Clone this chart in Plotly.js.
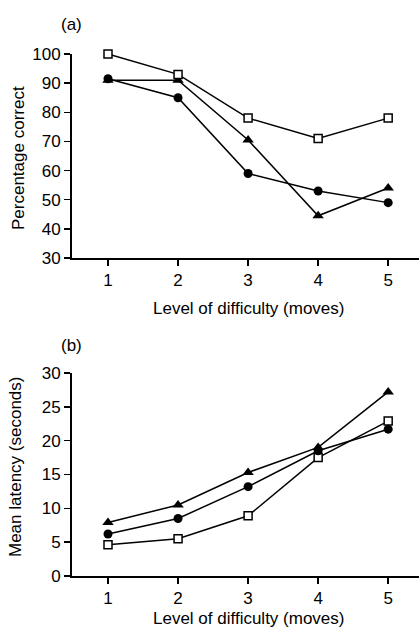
<!DOCTYPE html>
<html><head><meta charset="utf-8">
<script src="https://cdn.plot.ly/plotly-3.0.1.min.js"></script>
<style>html,body{margin:0;padding:0;background:#fff}#chart{width:419px;height:629px}</style>
</head><body><div id="chart"></div>
<script>
const levels = [1, 2, 3, 4, 5];
const tickLabels = ['1', '2', '3', '4', '5'];
// Panel (a): Percentage correct
const correctSquare = [100, 93, 78, 71, 78];
const correctCircle = [91.5, 85, 59, 53, 49];
const correctTriangle = [91, 91, 70.5, 44.5, 54];
// Panel (b): Mean latency (seconds)
const latencySquare = [4.6, 5.5, 8.9, 17.5, 22.9];
const latencyCircle = [6.2, 8.5, 13.2, 18.5, 21.7];
const latencyTriangle = [7.9, 10.5, 15.3, 19.0, 27.2];

const FONT = 'Liberation Sans, Arial, sans-serif';
const FS = 17;
const lineStyle = {color: '#000', width: 1.5};
function tr(y, sym, xa, ya) {
  const m = {square: {symbol: 'square', size: 8, color: '#fff', line: {color: '#000', width: 1.5}},
             circle: {symbol: 'circle', size: 9, color: '#000', line: {width: 0}},
             triangle: {symbol: 'triangle-up', size: 10, color: '#000', line: {width: 0}}}[sym];
  return {x: levels, y: y, xaxis: xa, yaxis: ya, mode: 'lines+markers', line: lineStyle, marker: m, showlegend: false, cliponaxis: false};
}
const data = [
  tr(correctCircle, 'circle', 'x', 'y'),
  tr(correctTriangle, 'triangle', 'x', 'y'),
  tr(correctSquare, 'square', 'x', 'y'),
  tr(latencySquare, 'square', 'x2', 'y2'),
  tr(latencyCircle, 'circle', 'x2', 'y2'),
  tr(latencyTriangle, 'triangle', 'x2', 'y2'),
];
const xBase = {range: [0.486, 5.44], tickvals: levels, ticktext: tickLabels, showgrid: false, zeroline: false,
  showline: true, linecolor: '#000', linewidth: 2, ticks: 'outside', ticklen: 6, tickwidth: 1.5, tickcolor: '#000',
  tickfont: {family: FONT, size: FS, color: '#000'}, fixedrange: true};
const yBase = {showgrid: false, zeroline: false, showline: true, linecolor: '#000', linewidth: 2,
  ticks: 'outside', ticklen: 6, tickwidth: 1.5, tickcolor: '#000', tickfont: {family: FONT, size: FS, color: '#000'}, fixedrange: true};
const H = 522;
const layout = {
  width: 419, height: 629,
  margin: {l: 72, r: 0, t: 54, b: 53, pad: 0},
  paper_bgcolor: '#fff', plot_bgcolor: '#fff',
  font: {family: FONT, color: '#000'},
  xaxis: Object.assign({}, xBase, {anchor: 'y', domain: [0, 1]}),
  yaxis: Object.assign({}, yBase, {domain: [(576 - 258) / H, 1], range: [30, 100], tickvals: [30, 40, 50, 60, 70, 80, 90, 100]}),
  xaxis2: Object.assign({}, xBase, {anchor: 'y2', domain: [0, 1]}),
  yaxis2: Object.assign({}, yBase, {domain: [0, (576 - 373) / H], range: [0, 30], tickvals: [0, 5, 10, 15, 20, 25, 30]}),
  annotations: [
    {text: '(a)', xref: 'paper', yref: 'paper', x: (71 - 72) / 347, y: (576 - 25) / H, showarrow: false, xanchor: 'center', yanchor: 'middle', font: {family: FONT, size: FS}},
    {text: '(b)', xref: 'paper', yref: 'paper', x: (71 - 72) / 347, y: (576 - 345) / H, showarrow: false, xanchor: 'center', yanchor: 'middle', font: {family: FONT, size: FS}},
    {text: 'Level of difficulty (moves)', xref: 'paper', yref: 'paper', x: (248 - 72) / 347, y: (576 - 308) / H, showarrow: false, xanchor: 'center', yanchor: 'middle', font: {family: FONT, size: FS}},
    {text: 'Level of difficulty (moves)', xref: 'paper', yref: 'paper', x: (248 - 72) / 347, y: (576 - 618) / H, showarrow: false, xanchor: 'center', yanchor: 'middle', font: {family: FONT, size: FS}},
    {text: 'Percentage correct', xref: 'paper', yref: 'paper', x: (18 - 72) / 347, y: (576 - 158) / H, textangle: -90, showarrow: false, xanchor: 'center', yanchor: 'middle', font: {family: FONT, size: FS}},
    {text: 'Mean latency (seconds)', xref: 'paper', yref: 'paper', x: (15 - 72) / 347, y: (576 - 467) / H, textangle: -90, showarrow: false, xanchor: 'center', yanchor: 'middle', font: {family: FONT, size: FS}},
  ]
};
Plotly.newPlot('chart', data, layout, {displayModeBar: false, staticPlot: true});
</script></body></html>
